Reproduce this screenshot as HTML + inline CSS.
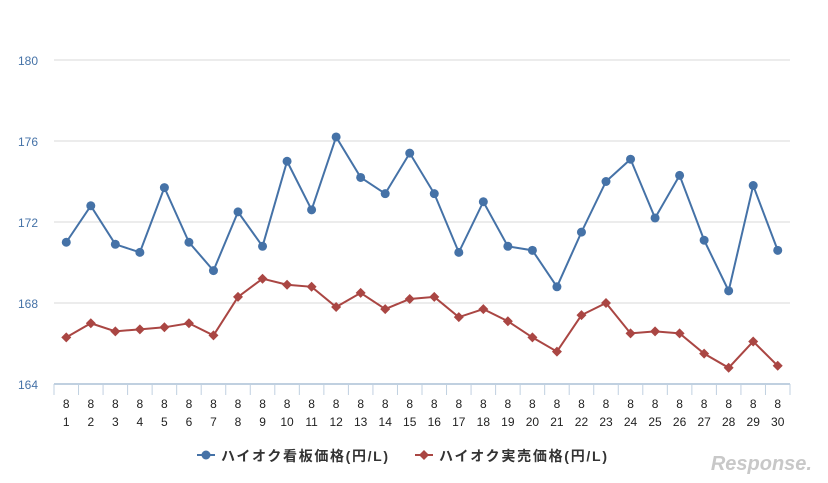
<!DOCTYPE html>
<html><head><meta charset="utf-8"><style>
body{margin:0;background:#fff;}
svg{display:block;font-family:"Liberation Sans","Noto Sans CJK JP",sans-serif;}
</style></head><body>
<svg id="c" width="828" height="483"></svg>
<script>
const days=[1,2,3,4,5,6,7,8,9,10,11,12,13,14,15,16,17,18,19,20,21,22,23,24,25,26,27,28,29,30];
const boardPrice=[171.0,172.8,170.9,170.5,173.7,171.0,169.6,172.5,170.8,175.0,172.6,176.2,174.2,173.4,175.4,173.4,170.5,173.0,170.8,170.6,168.8,171.5,174.0,175.1,172.2,174.3,171.1,168.6,173.8,170.6];
const actualPrice=[166.3,167.0,166.6,166.7,166.8,167.0,166.4,168.3,169.2,168.9,168.8,167.8,168.5,167.7,168.2,168.3,167.3,167.7,167.1,166.3,165.6,167.4,168.0,166.5,166.6,166.5,165.5,164.8,166.1,164.9];
const yTicks=[164,168,172,176,180];
const NS="http://www.w3.org/2000/svg";
const svg=document.getElementById('c');
const L=54,R=790,T=60,B=384,yMin=164,yMax=180;
const bw=(R-L)/days.length;
const xs=i=>L+bw*(i+0.5);
const ys=v=>B-(v-yMin)/(yMax-yMin)*(B-T);
function mk(tag,attrs,parent){const e=document.createElementNS(NS,tag);for(const k in attrs)e.setAttribute(k,attrs[k]);(parent||svg).appendChild(e);return e;}
yTicks.forEach(v=>{
  const g=mk('line',{x1:L,x2:R,y1:ys(v),y2:ys(v),stroke:v===yMin?'#c0d0e0':'#d8d8d8','stroke-width':v===yMin?2:1});
  
  
  const t=mk('text',{x:38,y:ys(v)+5,'text-anchor':'end','font-size':12,fill:'#4572a7'});
  t.textContent=v;
  
  
});
for(let i=0;i<=days.length;i++){
  const x=L+bw*i;
  const tk=mk('line',{x1:x,x2:x,y1:B,y2:B+11,stroke:'#c0d0e0','stroke-width':1});
  
  
}
days.forEach((d,i)=>{
  const a=mk('text',{x:xs(i),y:408,'text-anchor':'middle','font-size':12,fill:'#222'});a.textContent='8';
  
  
  const b=mk('text',{x:xs(i),y:426,'text-anchor':'middle','font-size':12,fill:'#222'});b.textContent=d;
  
  
});
function series(vals,color,shape,name){
  const p=mk('polyline',{points:vals.map((v,i)=>xs(i)+','+ys(v)).join(' '),fill:'none',stroke:color,'stroke-width':2});
  
  
  vals.forEach((v,i)=>{
    const x=xs(i),y=ys(v);let m;
    if(shape==='circle')m=mk('circle',{cx:x,cy:y,r:4.5,fill:color});
    else m=mk('polygon',{points:`${x},${y-5} ${x+5},${y} ${x},${y+5} ${x-5},${y}`,fill:color});
    
    
  });
}
series(boardPrice,'#4572a7','circle','board-price');
series(actualPrice,'#aa4643','diamond','actual-price');
const lg=mk('g',{});


mk('line',{x1:197,x2:215,y1:455,y2:455,stroke:'#4572a7','stroke-width':2},lg);
mk('circle',{cx:206,cy:455,r:4.5,fill:'#4572a7'},lg);
const t1=mk('text',{x:221,y:461,'font-size':14,'font-weight':'bold',fill:'#333',textLength:167,lengthAdjust:'spacing'},lg);t1.textContent='ハイオク看板価格(円/L)';


mk('line',{x1:415,x2:433,y1:455,y2:455,stroke:'#aa4643','stroke-width':2},lg);
mk('polygon',{points:'424,450 429,455 424,460 419,455',fill:'#aa4643'},lg);
const t2=mk('text',{x:439,y:461,'font-size':14,'font-weight':'bold',fill:'#333',textLength:168,lengthAdjust:'spacing'},lg);t2.textContent='ハイオク実売価格(円/L)';


const wm=mk('text',{x:812,y:470,'text-anchor':'end','font-size':20,'font-style':'italic','font-weight':'bold',fill:'#c8c8c8'});
wm.textContent='Response.';


</script>
</body></html>
